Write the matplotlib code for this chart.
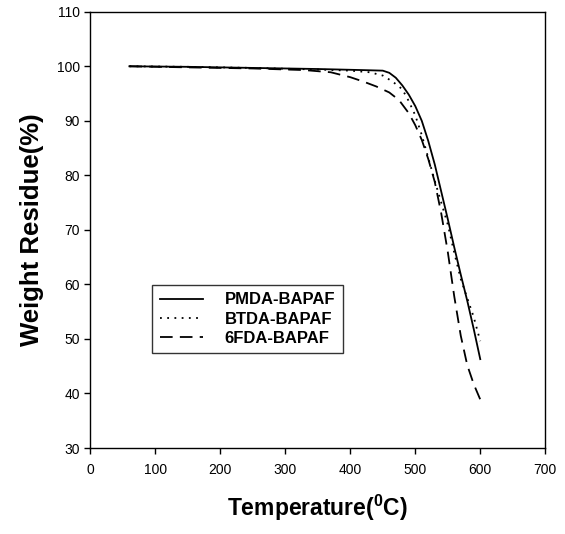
import matplotlib
matplotlib.use('Agg')
import matplotlib.pyplot as plt
import numpy as np

plt.rcParams['font.family'] = ['Liberation Sans', 'DejaVu Sans']
plt.rcParams['mathtext.fontset'] = 'custom'
plt.rcParams['mathtext.rm'] = 'Liberation Sans'
plt.rcParams['mathtext.bf'] = 'Liberation Sans:bold'

# datos (TGA)
temp_pmda = [60, 150, 250, 350, 420, 450, 460, 470, 480, 490, 500, 510, 520, 530, 540, 550, 560, 570, 580, 590, 600]
peso_pmda = [100, 99.9, 99.7, 99.5, 99.3, 99.2, 98.8, 97.9, 96.5, 94.8, 92.7, 90.0, 86.3, 82.0, 77.0, 72.0, 66.8, 61.8, 57.0, 51.8, 46.3]

temp_btda = [60, 150, 250, 350, 400, 430, 450, 465, 480, 490, 500, 510, 520, 530, 540, 550, 560, 570, 580, 590, 600]
peso_btda = [100, 99.9, 99.7, 99.4, 99.2, 98.9, 98.3, 97.2, 95.8, 93.6, 91.0, 87.4, 83.2, 79.0, 75.0, 71.0, 65.8, 61.0, 57.5, 54.0, 49.6]

temp_6fda = [60, 150, 250, 330, 370, 400, 420, 440, 460, 475, 490, 500, 510, 520, 530, 540, 550, 560, 570, 580, 590, 600]
peso_6fda = [100, 99.8, 99.6, 99.3, 98.9, 98.0, 97.2, 96.3, 95.2, 93.8, 91.4, 89.2, 86.5, 83.0, 78.8, 73.0, 66.0, 57.8, 50.6, 45.2, 41.7, 38.9]

etiquetas = ['PMDA-BAPAF', 'BTDA-BAPAF', '6FDA-BAPAF']

fig = plt.figure(figsize=(5.65, 5.34), dpi=100)
ax = fig.add_axes([0.160, 0.161, 0.805, 0.817])

ax.plot(temp_pmda, peso_pmda, color='black', lw=1.3, ls='-', label=etiquetas[0])
ax.plot(temp_btda, peso_btda, color='black', lw=1.3, ls=(0, (1, 3)), label=etiquetas[1])
ax.plot(temp_6fda, peso_6fda, color='black', lw=1.3, ls=(0, (7, 4)), label=etiquetas[2])

ax.set_xlim(0, 700)
ax.set_ylim(30, 110)
ax.set_xticks(np.arange(0, 701, 100))
ax.set_yticks(np.arange(30, 111, 10))
ax.tick_params(direction='out', length=4, width=1, labelsize=10, top=False, right=False)
ax.tick_params(axis='x', pad=7)
for s in ax.spines.values():
    s.set_linewidth(1.0)

ax.set_xlabel(r'Temperature($\mathbf{^0}$C)', fontsize=16.5, fontweight='bold', labelpad=11)
ax.set_ylabel('Weight Residue(%)', fontsize=18.5, fontweight='bold', labelpad=9)

leg = ax.legend(loc='upper left', bbox_to_anchor=(0.136, 0.374), borderaxespad=0, frameon=True,
                fancybox=False, edgecolor='black', handlelength=2.6, prop={'weight': 'bold', 'size': 12},
                borderpad=0.45, labelspacing=0.25, handletextpad=1.3)
leg.get_frame().set_linewidth(1.0)

fig.savefig('out.png', dpi=100)
